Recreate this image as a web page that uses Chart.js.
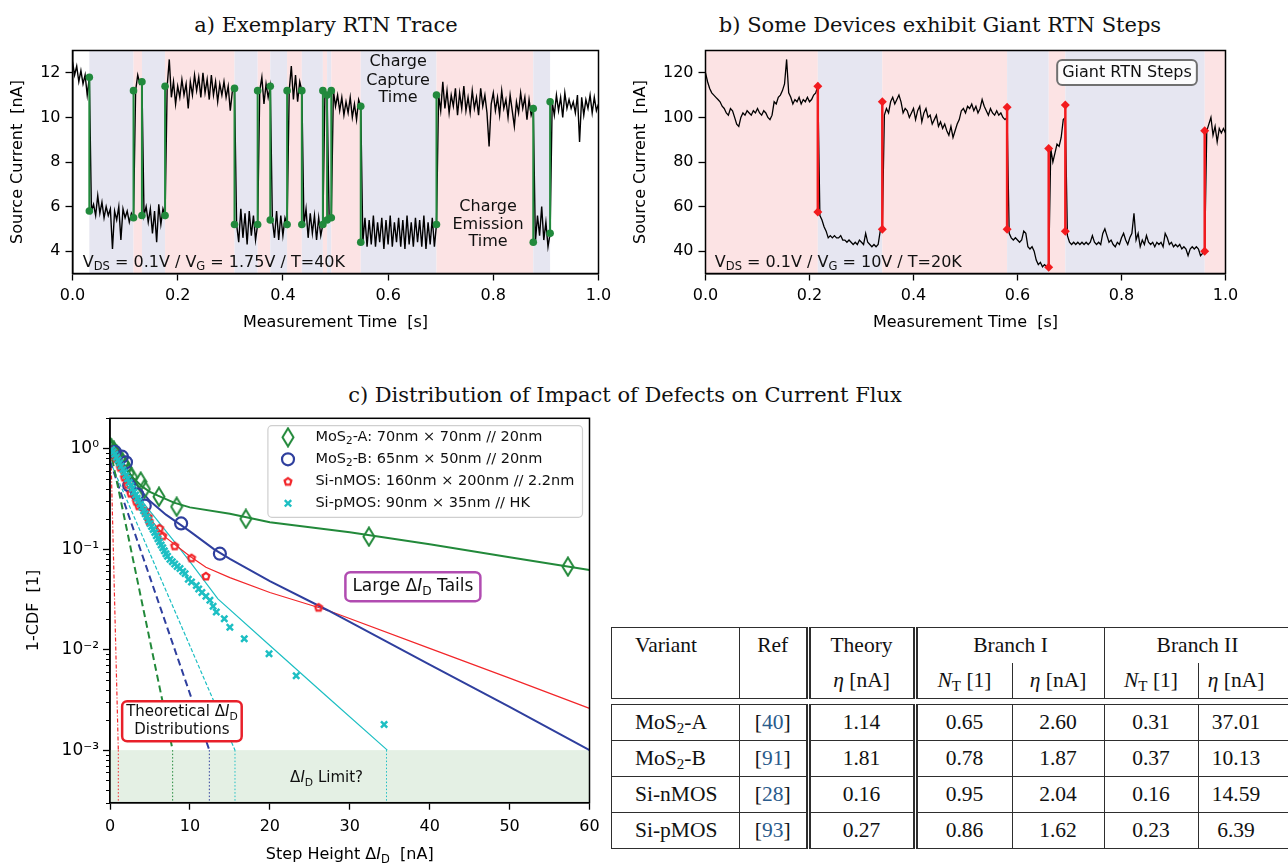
<!DOCTYPE html>
<html>
<head>
<meta charset="utf-8">
<script src="https://cdn.jsdelivr.net/npm/chart.js@4.4.1/dist/chart.umd.min.js"></script>
<style>
  html, body { margin: 0; padding: 0; background: #fff; }
  body { position: relative; width: 1288px; height: 868px; overflow: hidden; }
  canvas { position: absolute; }
  .ttl { position: absolute; font-family: "DejaVu Serif", serif; font-size: 21px; line-height: 26px; color: #111; white-space: nowrap; transform: translateX(-50%); }
  .tbl { position: absolute; left: 611px; width: 696.5px; border-collapse: collapse; table-layout: fixed; font-family: "Liberation Serif", serif; font-size: 21.5px; color: #111; }
  .tbl td { border: 1.6px solid #2e2e2e; text-align: center; padding: 0; white-space: nowrap; }
  .tbl td.lft { text-align: left; padding-left: 23px; }
  .tbl td.dbl { border-right: 5px double #2e2e2e; }
  .tbl td.nb { border-bottom: none; }
  .tbl td.nt { border-top: none; }
  .tbl td.last { padding-right: 34px; }
  .tbl sub { font-size: 0.7em; vertical-align: -0.25em; line-height: 0; }
  .tbl .ref { color: #2a5b8c; }
</style>
</head>
<body>
<div class="ttl" style="left:326px;top:12px">a) Exemplary RTN Trace</div>
<div class="ttl" style="left:940px;top:12px">b) Some Devices exhibit Giant RTN Steps</div>
<div class="ttl" style="left:625px;top:382px">c) Distribution of Impact of Defects on Current Flux</div>
<canvas id="chartA" width="620" height="340" style="left:0;top:0"></canvas>
<canvas id="chartB" width="668" height="340" style="left:620px;top:0"></canvas>
<canvas id="chartC" width="610" height="468" style="left:0;top:400px"></canvas>
<div id="tableHost"></div>
<script>
// ---------- a) exemplary RTN trace (sampled every 4 ms) ----------
const rtnA_dt = 0.004;
const rtnA_I = [
  12.5, 11.9, 12.3, 11.6, 12.1, 11.5, 11.9, 11.0, 11.8,
  5.8, 6.1, 5.6, 6.5, 5.7, 6.2, 5.5, 6.0, 5.6, 5.9, 4.1, 5.8, 5.4, 6.0, 4.5, 5.9, 5.5, 5.8, 5.3, 5.7, 5.5,
  11.2, 11.9, 11.5, 11.6,
  5.6, 6.0, 5.3, 5.9, 4.8, 5.8, 4.4, 6.1, 5.2, 5.9, 5.6,
  11.4, 12.6, 10.9, 11.6, 10.6, 11.4, 10.9, 11.7, 11.0, 11.5, 10.4, 11.6, 11.0, 11.9, 11.2, 11.8, 10.9,
  12.0, 11.1, 11.7, 10.8, 11.9, 11.0, 11.6, 10.7, 11.5, 11.0, 11.6, 10.9, 11.4, 10.3, 11.2, 11.3,
  5.2, 4.4, 5.9, 4.6, 5.7, 4.3, 5.8, 4.7, 5.6, 4.5, 5.2,
  11.2, 11.8, 10.6, 11.5, 10.9, 11.4,
  5.4, 4.6, 5.8, 4.5, 5.6, 4.7, 5.5, 5.2,
  11.2, 12.3, 10.8, 11.9, 10.7, 11.6, 11.2,
  5.2, 5.9, 4.6, 5.7, 4.8, 5.6, 4.5, 5.5, 4.7, 5.2,
  11.2, 11.0,
  5.4, 5.5,
  11.2, 10.5, 11.0, 10.3, 10.9, 10.1, 10.7, 10.2, 10.9, 10.0, 10.6, 9.9, 10.8, 10.5,
  4.4, 5.5, 4.2, 5.4, 4.3, 5.6, 4.2, 5.3, 4.4, 5.5, 4.1, 5.4, 4.3, 5.6, 4.2, 5.3, 4.4, 5.5,
  4.2, 5.4, 4.1, 5.6, 4.3, 5.3, 4.2, 5.5, 4.4, 5.4, 4.2, 5.6, 4.1, 5.3, 4.3, 5.5, 4.2, 5.2,
  11.0, 10.3, 11.6, 10.4, 11.2, 10.2, 11.0, 10.5, 11.3, 10.1, 11.1, 10.4, 11.4, 10.3, 10.9, 10.2,
  11.2, 10.4, 10.9, 10.1, 11.3, 10.5, 11.0, 10.2, 8.7, 10.6, 11.1, 10.3, 10.9, 10.1, 11.2, 10.4,
  10.8, 10.0, 11.0, 10.3, 9.6, 10.7, 10.2, 11.1, 10.4, 10.9, 9.9, 10.8, 10.1, 10.4,
  4.4, 5.6, 4.7, 6.0, 4.5, 5.3, 4.2, 4.8,
  10.7, 10.1, 11.0, 10.3, 10.9, 10.0, 11.1, 10.4, 10.8, 10.4, 10.7, 10.2, 11.0, 8.9, 10.9, 10.1,
  10.8, 10.4, 11.0, 10.2, 10.9, 10.3, 10.6
];
const stepA_t  = [0.032, 0.116, 0.132, 0.176, 0.308, 0.352, 0.376, 0.408, 0.436, 0.476, 0.484, 0.492, 0.548, 0.692, 0.876, 0.908];
const stepA_hi = [11.8, 11.2, 11.6, 11.4, 11.3, 11.2, 11.4, 11.2, 11.2, 11.2, 11.0, 11.2, 10.5, 11.0, 10.4, 10.7];
const stepA_lo = [5.8, 5.5, 5.6, 5.6, 5.2, 5.2, 5.4, 5.2, 5.2, 5.2, 5.4, 5.5, 4.4, 5.2, 4.4, 4.8];
const ticksA_y = [4, 6, 8, 10, 12];
const ticksTime = [0, 0.2, 0.4, 0.6, 0.8, 1.0];

// ---------- b) giant RTN steps ----------
const rtnB_dt = 0.004;
const rtnB_I = [
  120, 116, 113, 111, 110, 109, 108, 107, 105, 104, 102, 101, 104, 103, 100,
  97, 96, 100, 102, 101, 103, 102, 101, 103, 102, 104, 102, 101, 103, 102, 100, 99, 101, 107, 106,
  109, 110, 112, 115, 126, 111, 109, 106, 108, 107, 109, 106, 108, 107, 109, 107, 108, 110, 111, 114,
  56, 54, 51, 49, 46, 47, 46, 47, 46, 46, 47, 45, 45, 44, 45, 44, 43, 44, 43, 45, 44, 43, 48, 44, 43,
  42, 43, 42, 43, 49, 50,
  101, 104, 102, 107, 109, 106, 108, 110, 107, 102, 104, 103, 100, 102, 104, 99, 103, 105, 98, 102,
  104, 100, 101, 97, 99, 101, 96, 98, 95, 97, 94, 92, 96, 91, 94, 97, 99, 103, 104, 102,
  105, 104, 106, 103, 105, 102, 104, 108, 105, 103, 101, 104, 102, 101, 103, 101, 102, 100, 99, 100,
  48, 46, 45, 46, 45, 44, 45, 49, 48, 42, 41, 42, 40, 36, 34, 35, 33, 34, 33, 33,
  86, 80, 84, 88, 87, 91, 99, 100,
  47, 44, 43, 44, 43, 44, 43, 44, 43, 44, 43, 44, 47, 44, 43, 44, 43, 48, 50, 47,
  44, 45, 43, 42, 44, 43, 46, 48, 45, 43, 46, 48, 57, 45, 48, 42, 45, 43, 47, 44,
  43, 44, 42, 44, 43, 44, 42, 48, 46, 43, 44, 42, 43, 42, 43, 41, 42, 41, 38, 41,
  42, 41, 42, 41, 38, 39, 40,
  94, 97, 100, 92, 96, 89, 95, 93, 95, 93
];
const stepB_t  = [0.216, 0.340, 0.580, 0.660, 0.692, 0.960];
const stepB_hi = [114, 107, 104.6, 86, 105.6, 94];
const stepB_lo = [57.6, 49.8, 49.8, 32.8, 49, 40];
const ticksB_y = [40, 60, 80, 100, 120];

// ---------- c) 1-CDF of step heights ----------
const mosA_x = [0.2, 0.5, 0.8, 1.2, 1.6, 2.0, 2.3, 2.7, 3.84, 4.3, 6.13, 8.34, 17.0, 32.4, 57.3];
const mosA_y = [1.0, 0.95, 0.88, 0.8, 0.72, 0.65, 0.57, 0.52, 0.47, 0.395, 0.332, 0.264, 0.20, 0.133, 0.067];
const mosB_x = [0.6, 1.5, 2.0, 2.4, 3.4, 4.35, 8.9, 13.75];
const mosB_y = [0.93, 0.83, 0.73, 0.43, 0.35, 0.27, 0.18, 0.09];
const siN_x = [0.3, 0.8, 1.3, 1.8, 2.2, 2.6, 3.3, 3.6, 4.4, 4.8, 4.9, 6.2, 6.6, 8.1, 10.2, 12.0, 26.1];
const siN_y = [0.95, 0.8, 0.65, 0.52, 0.44, 0.36, 0.30, 0.27, 0.24, 0.21, 0.19, 0.162, 0.136, 0.108, 0.082, 0.054, 0.0264];
const siP_x = [0.2, 0.4, 0.6, 0.8, 1.0, 1.2, 1.4, 1.6, 1.8, 2.0, 2.2, 2.4, 2.6, 2.8, 3.0, 3.2, 3.4, 3.6, 3.8, 4.0,
  4.2, 4.4, 4.6, 4.8, 5.0, 5.2, 5.4, 5.6, 5.8, 6.0, 6.2, 6.4, 6.6, 6.8, 7.0, 7.2, 7.5, 7.8, 8.1, 8.4,
  8.76, 9.1, 9.4, 9.8, 10.2, 10.8, 11.1, 11.5, 12.0, 12.5, 12.9, 13.3, 14.3, 15.0, 16.8, 19.9, 23.3, 34.3];
const siP_y = [0.98, 0.93, 0.88, 0.82, 0.77, 0.72, 0.67, 0.62, 0.58, 0.54, 0.5, 0.46, 0.43, 0.4, 0.37, 0.345, 0.32, 0.3, 0.28, 0.26,
  0.24, 0.225, 0.21, 0.195, 0.18, 0.168, 0.157, 0.146, 0.136, 0.127, 0.118, 0.11, 0.103, 0.096, 0.09, 0.085, 0.079, 0.075, 0.071, 0.067,
  0.064, 0.06, 0.057, 0.05, 0.047, 0.0435, 0.04, 0.037, 0.034, 0.031, 0.027, 0.0237, 0.0203, 0.0167, 0.0128, 0.0091, 0.0055, 0.0018];

const fitA_x = [0, 1, 2, 3, 4, 5, 6, 8, 10, 15, 20, 30, 40, 50, 60];
const fitA_y = [1.3, 0.85, 0.62, 0.5, 0.42, 0.37, 0.34, 0.29, 0.26, 0.225, 0.185, 0.147, 0.112, 0.083, 0.062];
const fitB_x = [0, 1, 2, 3, 4, 5, 7, 10, 13, 15, 20, 27.3, 40, 50, 60];
const fitB_y = [1.25, 0.9, 0.65, 0.48, 0.37, 0.3, 0.22, 0.15, 0.1, 0.08, 0.048, 0.0245, 0.0071, 0.0027, 0.001];
const fitN_x = [0, 1, 2, 3, 5, 7, 10, 12, 15, 20, 27.3, 40, 50, 60];
const fitN_y = [1.0, 0.65, 0.45, 0.33, 0.2, 0.13, 0.085, 0.066, 0.052, 0.037, 0.0245, 0.0103, 0.0052, 0.0026];
const fitP_x = [0, 2, 4, 6, 8, 10, 13.5, 20, 27, 34.7];
const fitP_y = [1.0, 0.5, 0.3, 0.19, 0.12, 0.075, 0.032, 0.011, 0.0035, 0.001];

// theoretical distributions: start and end where they reach 1e-3
const theoA_x = [0, 7.84],  theoA_y = [1.0, 0.001];
const theoB_x = [0, 12.43], theoB_y = [0.75, 0.001];
const theoP_x = [0, 15.64], theoP_y = [0.75, 0.001];
const theoN_x = [0.1, 1.04], theoN_y = [1.0, 0.001];
const limit_x = [1.04, 7.84, 12.43, 15.64, 34.6];
const limitYTop = 0.001, limitYBottom = 0.0003;

const ticksC_x = [0, 10, 20, 30, 40, 50, 60];
const ticksC_y = [0.001, 0.01, 0.1, 1];
const labelsC_y = ['10\u207B\u00B3', '10\u207B\u00B2', '10\u207B\u00B9', '10\u2070'];

// ---------- table ----------
const variantName = [['MoS', '2', '-A'], ['MoS', '2', '-B'], ['Si-nMOS', '', ''], ['Si-pMOS', '', '']];
const refNum = [40, 91, 28, 93];
const theoryEta = ['1.14', '1.81', '0.16', '0.27'];
const branch1N = ['0.65', '0.78', '0.95', '0.86'];
const branch1Eta = ['2.60', '1.87', '2.04', '1.62'];
const branch2N = ['0.31', '0.37', '0.16', '0.23'];
const branch2Eta = ['37.01', '10.13', '14.59', '6.39'];

// ---------- colours ----------
const BAND_BLUE = '#e6e6f1', BAND_PINK = '#fce3e4';
const STEP_GREEN = '#21893c', STEP_RED = '#f31b1e';
const C_GREEN = '#22893a', C_BLUE = '#2f3f9e', C_RED = '#f2262a', C_CYAN = '#1dbfc3';
const SANS = 'DejaVu Sans';

Chart.defaults.font.family = SANS;
Chart.defaults.color = '#000';

function richText(ctx, parts, x, y, size, align, color) {
  const fontFor = st => (st === 'i' ? 'italic ' : '') + (st === 's' ? size * 0.72 : size) + 'px "' + SANS + '"';
  let w = 0;
  parts.forEach(([t, st]) => { ctx.font = fontFor(st); w += ctx.measureText(t).width; });
  let cx = align === 'center' ? x - w / 2 : (align === 'right' ? x - w : x);
  ctx.textAlign = 'left';
  ctx.textBaseline = 'middle';
  ctx.fillStyle = color || '#000';
  parts.forEach(([t, st]) => {
    ctx.font = fontFor(st);
    ctx.fillText(t, cx, st === 's' ? y + size * 0.3 : y);
    cx += ctx.measureText(t).width;
  });
  return w;
}

function roundBox(ctx, x, y, w, h, r, fill, stroke, lw) {
  ctx.beginPath();
  ctx.roundRect(x, y, w, h, r);
  ctx.fillStyle = fill;
  ctx.fill();
  ctx.lineWidth = lw;
  ctx.strokeStyle = stroke;
  ctx.stroke();
}

const framePlugin = {
  id: 'frame',
  afterDraw(chart) {
    const { ctx, chartArea: a } = chart;
    ctx.save();
    ctx.strokeStyle = '#000';
    ctx.lineWidth = 1.5;
    ctx.strokeRect(a.left, a.top, a.right - a.left, a.bottom - a.top);
    ctx.restore();
  }
};

// shaded capture / emission intervals between consecutive steps
const bandsPlugin = {
  id: 'bands',
  beforeDatasetsDraw(chart, args, opts) {
    const { ctx, chartArea: a, scales: { x } } = chart;
    const edges = [x.min, ...opts.steps, x.max];
    ctx.save();
    for (let k = 0; k < edges.length - 1; k++) {
      let col = (k % 2 === 1) ? BAND_BLUE : BAND_PINK;
      if (k === 0 || k === edges.length - 2) col = opts.endColor;
      if (!col) continue;
      const x0 = x.getPixelForValue(edges[k]), x1 = x.getPixelForValue(edges[k + 1]);
      ctx.fillStyle = col;
      ctx.fillRect(x0, a.top, x1 - x0, a.bottom - a.top);
    }
    ctx.restore();
  }
};

const notesPlugin = {
  id: 'notes',
  afterDatasetsDraw(chart, args, opts) {
    const { ctx, scales: { x, y } } = chart;
    ctx.save();
    (opts.items || []).forEach(it => {
      const px = x.getPixelForValue(it.x), py = y.getPixelForValue(it.y);
      if (it.box) {
        const w = richText(ctx, it.parts, -9999, -9999, it.size, 'left', 'rgba(0,0,0,0)');
        roundBox(ctx, px - w / 2 - it.box.px, py - it.box.h / 2, w + 2 * it.box.px, it.box.h, 5, it.box.fill, it.box.stroke, it.box.lw);
      }
      richText(ctx, it.parts, px, py, it.size, it.align || 'center', it.color || '#111');
    });
    ctx.restore();
  }
};

function stepPoints(ts, hi, lo) {
  const out = [];
  ts.forEach((t, i) => { out.push({ x: t, y: hi[i] }, { x: t, y: lo[i] }, { x: t, y: null }); });
  return out;
}

function tracePoints(dt, vals) {
  return vals.map((v, i) => ({ x: +(i * dt).toFixed(4), y: v }));
}

function axisCommon(extra) {
  return Object.assign({
    grid: { drawOnChartArea: false, drawTicks: true, tickLength: 7, tickColor: '#000', tickWidth: 1.3 },
    border: { display: true, color: '#000', width: 1.5 }
  }, extra);
}

function traceChart(id, cfg) {
  return new Chart(document.getElementById(id), {
    type: 'line',
    data: {
      datasets: [
        {
          data: stepPoints(cfg.stepT, cfg.stepHi, cfg.stepLo),
          borderColor: cfg.stepColor, backgroundColor: cfg.stepColor,
          borderWidth: cfg.stepWidth, pointRadius: cfg.markRadius, pointStyle: cfg.markStyle,
          pointBorderWidth: 0, spanGaps: false
        },
        {
          data: tracePoints(cfg.dt, cfg.values),
          borderColor: '#000', borderWidth: cfg.traceWidth, pointRadius: 0, tension: 0
        }
      ]
    },
    options: {
      responsive: false, animation: false, devicePixelRatio: 1, events: [],
      layout: { padding: cfg.padding },
      plugins: {
        legend: { display: false }, tooltip: { enabled: false },
        bands: { steps: cfg.stepT, endColor: cfg.endColor },
        notes: { items: cfg.notes }
      },
      scales: {
        x: axisCommon({
          type: 'linear', min: 0, max: 1,
          afterBuildTicks: s => { s.ticks = ticksTime.map(v => ({ value: v })); },
          afterFit: s => { s.height = cfg.xHeight; },
          ticks: { font: { size: 16 }, padding: 6, autoSkip: false, maxRotation: 0, callback: v => v.toFixed(1) },
          title: { display: true, text: 'Measurement Time  [s]', font: { size: 16 }, padding: { top: 0, bottom: 8 } }
        }),
        y: axisCommon({
          type: 'linear', min: cfg.yMin, max: cfg.yMax,
          afterBuildTicks: s => { s.ticks = cfg.yTicks.map(v => ({ value: v })); },
          afterFit: s => { s.width = cfg.yWidth; },
          ticks: { font: { size: 16 }, padding: 5, autoSkip: false },
          title: { display: true, text: 'Source Current  [nA]', font: { size: 16 }, padding: { top: cfg.yTitlePad, bottom: 0 } }
        })
      }
    },
    plugins: [bandsPlugin, notesPlugin, framePlugin]
  });
}

traceChart('chartA', {
  dt: rtnA_dt, values: rtnA_I, stepT: stepA_t, stepHi: stepA_hi, stepLo: stepA_lo, traceWidth: 1.4,
  stepColor: STEP_GREEN, stepWidth: 2, markRadius: 3.8, markStyle: 'circle', endColor: null,
  yMin: 3, yMax: 13, yTicks: ticksA_y, yWidth: 72.5, yTitlePad: 8,
  padding: { left: 0, top: 50.5, right: 21.5, bottom: 0 }, xHeight: 66.5,
  notes: [
    { x: 0.619, y: 12.47, parts: [['Charge', 'n']], size: 16 },
    { x: 0.619, y: 11.64, parts: [['Capture', 'n']], size: 16 },
    { x: 0.619, y: 10.86, parts: [['Time', 'n']], size: 16 },
    { x: 0.79, y: 5.99, parts: [['Charge', 'n']], size: 16 },
    { x: 0.79, y: 5.17, parts: [['Emission', 'n']], size: 16 },
    { x: 0.79, y: 4.43, parts: [['Time', 'n']], size: 16 },
    { x: 0.0195, y: 3.5, align: 'left', size: 16,
      parts: [['V', 'n'], ['DS', 's'], [' = 0.1V / V', 'n'], ['G', 's'], [' = 1.75V / T=40K', 'n']] }
  ]
});

traceChart('chartB', {
  dt: rtnB_dt, values: rtnB_I, stepT: stepB_t, stepHi: stepB_hi, stepLo: stepB_lo, traceWidth: 1.3,
  stepColor: STEP_RED, stepWidth: 2.5, markRadius: 4.5, markStyle: 'rectRot', endColor: BAND_PINK,
  yMin: 30, yMax: 130, yTicks: ticksB_y, yWidth: 85.5, yTitlePad: 11,
  padding: { left: 0, top: 50.5, right: 62.5, bottom: 0 }, xHeight: 66.5,
  notes: [
    { x: 0.8106, y: 120.1, parts: [['Giant RTN Steps', 'n']], size: 16,
      box: { px: 5, h: 25, fill: 'rgba(255,255,255,0.85)', stroke: '#707070', lw: 2 } },
    { x: 0.018, y: 35, align: 'left', size: 16,
      parts: [['V', 'n'], ['DS', 's'], [' = 0.1V / V', 'n'], ['G', 's'], [' = 10V / T=20K', 'n']] }
  ]
});

// ---------- c) custom marker images ----------
function diamondImg(color) {
  const c = document.createElement('canvas');
  c.width = 14; c.height = 21;
  const g = c.getContext('2d');
  g.strokeStyle = color; g.lineWidth = 2;
  g.beginPath(); g.moveTo(7, 1.5); g.lineTo(12.5, 10.5); g.lineTo(7, 19.5); g.lineTo(1.5, 10.5); g.closePath(); g.stroke();
  return c;
}
function pentagonImg(color) {
  const c = document.createElement('canvas');
  c.width = 12; c.height = 12;
  const g = c.getContext('2d');
  g.strokeStyle = color; g.lineWidth = 2.2;
  g.beginPath();
  for (let k = 0; k < 5; k++) {
    const a = -Math.PI / 2 + k * 2 * Math.PI / 5;
    const px = 6 + 3.6 * Math.cos(a), py = 6.4 + 3.6 * Math.sin(a);
    if (k === 0) g.moveTo(px, py); else g.lineTo(px, py);
  }
  g.closePath(); g.stroke();
  return c;
}
const DIAMOND = diamondImg(C_GREEN);
const PENTAGON = pentagonImg(C_RED);

const pts = (xs, ys) => xs.map((v, i) => ({ x: v, y: ys[i] }));
const lineDs = (xs, ys, color, width, dash) => ({
  data: pts(xs, ys), showLine: true, pointRadius: 0, borderColor: color, borderWidth: width,
  borderDash: dash || [], fill: false
});

const limitColors = [C_RED, C_GREEN, C_BLUE, C_CYAN, C_CYAN];
const limitDatasets = limit_x.map((lx, i) =>
  lineDs([lx, lx], [limitYTop, limitYBottom], limitColors[i], 1, [1.5, 2]));

const legendItems = [
  { mark: 'diamond', parts: [['MoS', 'n'], ['2', 's'], ['-A: 70nm \u00D7 70nm // 20nm', 'n']] },
  { mark: 'circle', parts: [['MoS', 'n'], ['2', 's'], ['-B: 65nm \u00D7 50nm // 20nm', 'n']] },
  { mark: 'pent', parts: [['Si-nMOS: 160nm \u00D7 200nm // 2.2nm', 'n']] },
  { mark: 'cross', parts: [['Si-pMOS: 90nm \u00D7 35nm // HK', 'n']] }
];

const extrasC = {
  id: 'extrasC',
  beforeDatasetsDraw(chart) {
    const { ctx, chartArea: a, scales: { y } } = chart;
    const y0 = y.getPixelForValue(limitYTop), y1 = y.getPixelForValue(limitYBottom);
    ctx.save();
    ctx.fillStyle = '#e4f0e4';
    ctx.fillRect(a.left, y0, a.right - a.left, Math.min(y1, a.bottom) - y0);
    ctx.restore();
  },
  afterDatasetsDraw(chart) {
    const { ctx, chartArea: a, scales: { x, y } } = chart;
    ctx.save();
    // minor log ticks
    ctx.strokeStyle = '#000'; ctx.lineWidth = 1;
    for (let d = -4; d <= 0; d++) {
      for (let k = 2; k <= 9; k++) {
        const v = k * Math.pow(10, d);
        if (v < y.min || v > y.max) continue;
        const py = Math.round(y.getPixelForValue(v)) + 0.5;
        ctx.beginPath(); ctx.moveTo(a.left - 4, py); ctx.lineTo(a.left, py); ctx.stroke();
      }
    }
    // annotations
    const tl = { x: x.getPixelForValue(37.9), y: y.getPixelForValue(0.0423) };
    const tailParts = [['Large \u0394', 'n'], ['I', 'i'], ['D', 's'], [' Tails', 'n']];
    const w1 = richText(ctx, tailParts, -9999, -9999, 17, 'left', 'rgba(0,0,0,0)');
    roundBox(ctx, tl.x - w1 / 2 - 7, tl.y - 14.5, w1 + 14, 29, 5, '#fff', '#b14cb1', 2.5);
    richText(ctx, tailParts, tl.x, tl.y, 17, 'center', '#111');

    const th = { x: x.getPixelForValue(9.0), y: y.getPixelForValue(0.00194) };
    const thParts = [['Theoretical \u0394', 'n'], ['I', 'i'], ['D', 's']];
    const w2 = richText(ctx, thParts, -9999, -9999, 15, 'left', 'rgba(0,0,0,0)');
    roundBox(ctx, th.x - w2 / 2 - 4, th.y - 20, w2 + 8, 40, 5, '#fff', '#e8202a', 2.5);
    richText(ctx, thParts, th.x, th.y - 9, 15, 'center', '#111');
    richText(ctx, [['Distributions', 'n']], th.x, th.y + 9, 15, 'center', '#111');

    richText(ctx, [['\u0394', 'n'], ['I', 'i'], ['D', 's'], [' Limit?', 'n']],
      x.getPixelForValue(27.1), y.getPixelForValue(0.000525), 15, 'center', '#111');
    ctx.restore();
  },
  afterDraw(chart) {
    const { ctx, chartArea: a } = chart;
    ctx.save();
    // legend box
    roundBox(ctx, 267.9, 25.7, 314.6, 91.6, 4, 'rgba(255,255,255,0.85)', '#cfcfcf', 1.2);
    legendItems.forEach((it, i) => {
      const ly = 37.3 + i * 22, lx = 288;
      if (it.mark === 'diamond') ctx.drawImage(DIAMOND, lx - 7, ly - 10.5);
      if (it.mark === 'circle') {
        ctx.beginPath(); ctx.arc(lx, ly, 6, 0, 2 * Math.PI);
        ctx.strokeStyle = C_BLUE; ctx.lineWidth = 2.2; ctx.stroke();
      }
      if (it.mark === 'pent') ctx.drawImage(PENTAGON, lx - 6, ly - 6);
      if (it.mark === 'cross') {
        ctx.strokeStyle = C_CYAN; ctx.lineWidth = 2.4;
        ctx.beginPath(); ctx.moveTo(lx - 3.2, ly - 3.2); ctx.lineTo(lx + 3.2, ly + 3.2);
        ctx.moveTo(lx - 3.2, ly + 3.2); ctx.lineTo(lx + 3.2, ly - 3.2); ctx.stroke();
      }
      richText(ctx, it.parts, 315.4, ly, 14.5, 'left', '#111');
    });
    // x axis title
    richText(ctx, [['Step Height \u0394', 'n'], ['I', 'i'], ['D', 's'], ['  [nA]', 'n']],
      (a.left + a.right) / 2, 455, 16, 'center', '#000');
    ctx.restore();
  }
};

new Chart(document.getElementById('chartC'), {
  type: 'scatter',
  data: {
    datasets: [
      { data: pts(siP_x, siP_y), showLine: false, pointStyle: 'crossRot', pointRadius: 4.4,
        borderColor: C_CYAN, pointBorderWidth: 2.5 },
      { data: pts(siN_x, siN_y), showLine: false, pointStyle: PENTAGON, pointRadius: 5 },
      { data: pts(mosB_x, mosB_y), showLine: false, pointStyle: 'circle', pointRadius: 6,
        borderColor: C_BLUE, backgroundColor: 'rgba(0,0,0,0)', pointBorderWidth: 2.2 },
      { data: pts(mosA_x, mosA_y), showLine: false, pointStyle: DIAMOND, pointRadius: 6 },
      lineDs(fitA_x, fitA_y, C_GREEN, 2),
      lineDs(fitB_x, fitB_y, C_BLUE, 2),
      lineDs(fitN_x, fitN_y, C_RED, 1.2),
      lineDs(fitP_x, fitP_y, C_CYAN, 1.2),
      lineDs(theoA_x, theoA_y, C_GREEN, 2, [7, 4]),
      lineDs(theoB_x, theoB_y, C_BLUE, 2, [7, 4]),
      lineDs(theoP_x, theoP_y, C_CYAN, 1.2, [4, 2]),
      lineDs(theoN_x, theoN_y, C_RED, 1.2, [4, 2, 1, 2]),
      ...limitDatasets
    ]
  },
  options: {
    responsive: false, animation: false, devicePixelRatio: 1, events: [],
    layout: { padding: { left: 0, top: 18.3, right: 20.5, bottom: 0 } },
    plugins: { legend: { display: false }, tooltip: { enabled: false } },
    scales: {
      x: axisCommon({
        type: 'linear', min: 0, max: 60,
        afterBuildTicks: s => { s.ticks = ticksC_x.map(v => ({ value: v })); },
        afterFit: s => { s.height = 65.3; },
        ticks: { font: { size: 16 }, padding: 8, autoSkip: false, maxRotation: 0, callback: v => String(v) }
      }),
      y: axisCommon({
        type: 'logarithmic', min: 0.0003, max: 2,
        afterBuildTicks: s => { s.ticks = ticksC_y.map(v => ({ value: v })); },
        afterFit: s => { s.width = 110; },
        ticks: { font: { size: 17 }, padding: 4, autoSkip: false, callback: (v, i) => labelsC_y[i] },
        title: { display: true, text: '1-CDF  [1]', font: { size: 16 }, padding: { top: 24, bottom: 0 } }
      })
    }
  },
  plugins: [extrasC, framePlugin]
});

// ---------- table ----------
function buildTable() {
  const cols = '<colgroup><col style="width:128px"><col style="width:68.5px"><col style="width:107px">' +
    '<col style="width:97px"><col style="width:92px"><col style="width:94px"><col style="width:110px"></colgroup>';
  const eta = '<i>\u03B7</i> [nA]';
  const nt = '<i>N</i><sub>T</sub> [1]';
  let head = '<table class="tbl" style="top:626.5px">' + cols +
    '<tr style="height:36px"><td class="lft nb">Variant</td><td class="nb dbl">Ref</td><td class="nb dbl">Theory</td>' +
    '<td class="nb" colspan="2">Branch I</td><td class="nb" colspan="2" style="padding-right:17px">Branch II</td></tr>' +
    '<tr style="height:35px"><td class="nt"></td><td class="nt dbl"></td><td class="nt dbl">' + eta + '</td>' +
    '<td class="nt">' + nt + '</td><td class="nt">' + eta + '</td><td class="nt">' + nt + '</td><td class="nt last">' + eta + '</td></tr></table>';
  let body = '<table class="tbl" style="top:703.5px">' + cols;
  variantName.forEach((v, i) => {
    const name = v[0] + (v[1] ? '<sub>' + v[1] + '</sub>' : '') + v[2];
    body += '<tr style="height:36px"><td class="lft">' + name + '</td>' +
      '<td class="dbl">[<span class="ref">' + refNum[i] + '</span>]</td>' +
      '<td class="dbl">' + theoryEta[i] + '</td><td>' + branch1N[i] + '</td><td>' + branch1Eta[i] + '</td>' +
      '<td>' + branch2N[i] + '</td><td class="last">' + branch2Eta[i] + '</td></tr>';
  });
  body += '</table>';
  document.getElementById('tableHost').innerHTML = head + body;
}
buildTable();
</script>
</body>
</html>
